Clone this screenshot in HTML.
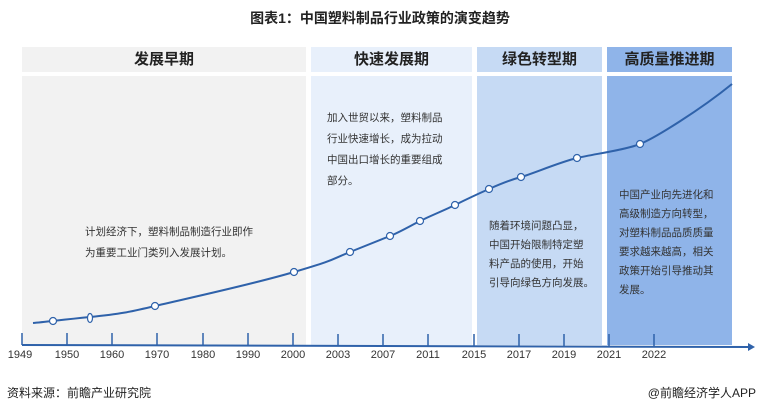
<!DOCTYPE html>
<html><head><meta charset="utf-8"><style>
body{margin:0;width:760px;height:411px;background:#fff;overflow:hidden;font-family:"Liberation Sans","Noto Sans CJK SC",sans-serif;position:relative}
.a{position:absolute}
.h{position:absolute;top:47px;height:25px;font-size:15px;font-weight:bold;color:#222;text-align:center;line-height:25px}
.b{position:absolute;top:76px;height:269px}
.t{position:absolute;font-size:10.5px;color:#333;line-height:21px}
.x{position:absolute;top:349px;font-size:11px;color:#333;width:40px;text-align:center}
</style></head><body>
<div class="a" style="left:0;top:8px;width:760px;text-align:center;font-size:14px;font-weight:bold;color:#222">图表1：中国塑料制品行业政策的演变趋势</div>
<div class="h" style="left:22px;width:284px;background:#f2f2f2">发展早期</div>
<div class="h" style="left:311px;width:161px;background:#e8f0fb">快速发展期</div>
<div class="h" style="left:477px;width:125px;background:#c6daf4">绿色转型期</div>
<div class="h" style="left:607px;width:125px;background:#8fb4e9">高质量推进期</div>
<div class="b" style="left:22px;width:284px;background:#f2f2f2"></div>
<div class="b" style="left:311px;width:161px;background:#e8f0fb"></div>
<div class="b" style="left:477px;width:125px;background:#c6daf4"></div>
<div class="b" style="left:607px;width:125px;background:#8fb4e9"></div>
<div class="t" style="left:85px;top:222px">计划经济下，塑料制品制造行业即作<br>为重要工业门类列入发展计划。</div>
<div class="t" style="left:327px;top:108px">加入世贸以来，塑料制品<br>行业快速增长，成为拉动<br>中国出口增长的重要组成<br>部分。</div>
<div class="t" style="left:489px;top:217px;line-height:19px">随着环境问题凸显，<br>中国开始限制特定塑<br>料产品的使用，开始<br>引导向绿色方向发展。</div>
<div class="t" style="left:619px;top:186px;line-height:19px">中国产业向先进化和<br>高级制造方向转型，<br>对塑料制品品质质量<br>要求越来越高，相关<br>政策开始引导推动其<br>发展。</div>
<svg class="a" style="left:0;top:0" width="760" height="411">
<path d="M33,323 C45,322 60,320 90,317 S130,312 155,306 S250,285 294,272 S330,260 350,252 S380,240 390,236 S410,226 420,221 S445,210 455,205 S480,193 489,189 S510,180 521,177 S560,162 577,158 S625,150 640,144 S700,110 732,84" fill="none" stroke="#2f62aa" stroke-width="2"/>
<g fill="#fff" stroke="#2f62aa" stroke-width="1.2">
<circle cx="53" cy="321" r="3.5"/><ellipse cx="90" cy="318" rx="2.5" ry="4.5"/><circle cx="155" cy="306" r="3.5"/><circle cx="294" cy="272" r="3.5"/><circle cx="350" cy="252" r="3.5"/><circle cx="390" cy="236" r="3.5"/><circle cx="420" cy="221" r="3.5"/><circle cx="455" cy="205" r="3.5"/><circle cx="489" cy="189" r="3.5"/><circle cx="521" cy="177" r="3.5"/><circle cx="577" cy="158" r="3.5"/><circle cx="640" cy="144" r="3.5"/></g>
<path d="M22,345 L748,347" stroke="#2f62aa" stroke-width="2"/>
<path d="M748,343 L755,347 L748,351z" fill="#2f62aa"/>
<g stroke="#2f62aa" stroke-width="1.5">
<path d="M22,345V333M67,345V333M112,345V333M157,345V333M203,345V333M248,345V333M293,345V333M338,346V334M383,346V334M428,346V334M474,346V334M519,346V334M564,346V334M609,346V334M654,346V334"/></g>
</svg>
<div class="x" style="left:0px">1949</div><div class="x" style="left:47px">1950</div><div class="x" style="left:92px">1960</div><div class="x" style="left:137px">1970</div><div class="x" style="left:183px">1980</div><div class="x" style="left:228px">1990</div><div class="x" style="left:273px">2000</div><div class="x" style="left:318px">2003</div><div class="x" style="left:363px">2007</div><div class="x" style="left:408px">2011</div><div class="x" style="left:454px">2015</div><div class="x" style="left:499px">2017</div><div class="x" style="left:544px">2019</div><div class="x" style="left:589px">2021</div><div class="x" style="left:634px">2022</div>
<div class="a" style="left:7px;top:384px;font-size:12px;color:#222">资料来源：前瞻产业研究院</div>
<div class="a" style="right:4px;top:384px;font-size:12px;color:#222">@前瞻经济学人APP</div>
</body></html>
